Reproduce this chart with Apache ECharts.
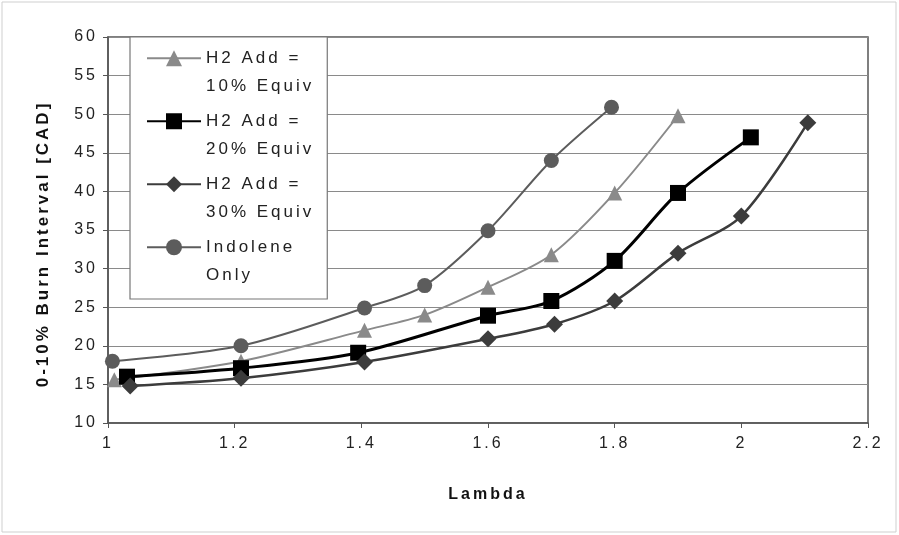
<!DOCTYPE html>
<html>
<head>
<meta charset="utf-8">
<script src="https://cdn.jsdelivr.net/npm/echarts@6/dist/echarts.min.js"></script>
<style>
  html, body { margin: 0; padding: 0; background: #fff; }
  #chart { width: 899px; height: 535px; }
</style>
</head>
<body>
<div id="chart"></div>
<script>
// data
var seriesNames = ['H2 Add =\n10% Equiv', 'H2 Add =\n20% Equiv', 'H2 Add =\n30% Equiv', 'Indolene\nOnly'];

var h2_10 = [[1.01, 15.6], [1.21, 18], [1.405, 22], [1.5, 24], [1.6, 27.6], [1.7, 31.8], [1.8, 39.8], [1.9, 49.8]];
var h2_20 = [[1.03, 16], [1.21, 17.1], [1.395, 19.1], [1.6, 23.9], [1.7, 25.8], [1.8, 31], [1.9, 39.8], [2.015, 47]];
var h2_30 = [[1.035, 14.8], [1.21, 15.8], [1.405, 17.9], [1.6, 20.9], [1.705, 22.8], [1.8, 25.8], [1.9, 32], [2.0, 36.8], [2.105, 48.9]];
var indolene = [[1.007, 18], [1.21, 20], [1.405, 24.9], [1.5, 27.8], [1.6, 34.9], [1.7, 44], [1.795, 50.9]];

var xTicks = { min: 1, max: 2.2, step: 0.2 };
var yTicks = { min: 10, max: 60, step: 5 };

// the old excel print has wide letter spacing on all text
var SPACING = '3px';
var proto = CanvasRenderingContext2D.prototype;
var origFillText = proto.fillText;
var origMeasureText = proto.measureText;
proto.fillText = function (t, x, y, w) {
    this.letterSpacing = SPACING;
    return w === undefined ? origFillText.call(this, t, x, y) : origFillText.call(this, t, x, y, w);
};
proto.measureText = function (t) {
    this.letterSpacing = SPACING;
    return origMeasureText.call(this, t);
};

var chart = echarts.init(document.getElementById('chart'));
var font = 'Liberation Sans, Arial, sans-serif';

function makeSeries(name, data, color, symbol, size, width) {
    return {
        name: name,
        type: 'line',
        data: data,
        smooth: 0.3,
        symbol: symbol,
        symbolSize: size,
        showSymbol: true,
        lineStyle: { color: color, width: width },
        itemStyle: { color: color },
        z: 3
    };
}

chart.setOption({
    animation: false,
    textStyle: { fontFamily: font },
    graphic: [{
        type: 'rect',
        shape: { x: 2, y: 2, width: 894, height: 530 },
        style: { fill: 'none', stroke: '#cfcfcf', lineWidth: 1 },
        silent: true
    }],
    grid: {
        left: 108, right: 31, top: 37, bottom: 112,
        show: true,
        borderColor: '#555',
        borderWidth: 1.5
    },
    legend: {
        orient: 'vertical',
        left: 130,
        top: 37,
        padding: [-21.5, 13, 9, 16],
        backgroundColor: '#fff',
        borderColor: '#777',
        borderWidth: 1.2,
        itemWidth: 54,
        itemHeight: 20,
        itemGap: -22.5,
        // blank first line so the icon sits level with the first text line
        formatter: function (name) { return '\n' + name; },
        textStyle: { fontSize: 17, color: '#222', lineHeight: 28.5, fontFamily: font },
        data: seriesNames
    },
    xAxis: {
        type: 'value',
        min: xTicks.min,
        max: xTicks.max,
        interval: xTicks.step,
        name: 'Lambda',
        nameLocation: 'middle',
        nameGap: 62,
        nameTextStyle: { fontSize: 16, fontWeight: 'bold', color: '#111' },
        axisLine: { show: true, lineStyle: { color: '#555', width: 1.5 } },
        axisTick: { show: true, length: 5, lineStyle: { color: '#555' } },
        axisLabel: {
            fontSize: 16, color: '#222', margin: 11,
            formatter: function (v) { return String(Math.round(v * 10) / 10); }
        },
        splitLine: { show: false }
    },
    yAxis: {
        type: 'value',
        min: yTicks.min,
        max: yTicks.max,
        interval: yTicks.step,
        name: '0-10% Burn Interval [CAD]',
        nameLocation: 'middle',
        nameGap: 55,
        nameTextStyle: { fontSize: 17, fontWeight: 'bold', color: '#111', padding: [0, 28, 0, 0] },
        axisLine: { show: true, lineStyle: { color: '#555', width: 1.5 } },
        axisTick: { show: true, length: 5, lineStyle: { color: '#555' } },
        axisLabel: { fontSize: 16, color: '#222', margin: 10 },
        splitLine: { show: true, lineStyle: { color: '#8a8a8a', width: 1 } }
    },
    series: [
        makeSeries(seriesNames[0], h2_10, '#8a8a8a', 'triangle', 15, 2),
        makeSeries(seriesNames[1], h2_20, '#000000', 'rect', 16, 3),
        makeSeries(seriesNames[2], h2_30, '#3c3c3c', 'diamond', 17, 2.5),
        makeSeries(seriesNames[3], indolene, '#5c5c5c', 'circle', 15, 2)
    ]
});
</script>
</body>
</html>
